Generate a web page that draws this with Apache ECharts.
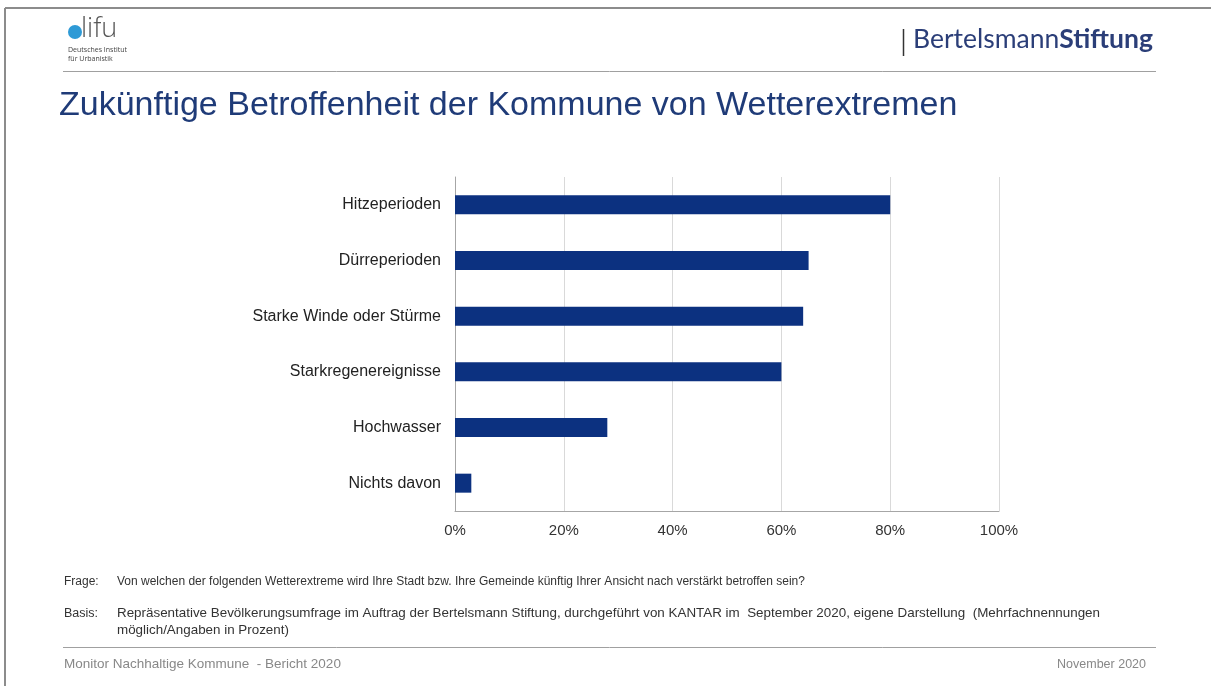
<!DOCTYPE html>
<html>
<head>
<meta charset="utf-8">
<script src="https://cdn.jsdelivr.net/npm/echarts@6/dist/echarts.min.js"></script>
<style>
html,body{margin:0;padding:0;background:#fff;}
#c{width:1211px;height:686px;}
</style>
</head>
<body>
<div id="c"></div>
<script>
const categories = ["Hitzeperioden", "Dürreperioden", "Starke Winde oder Stürme", "Starkregenereignisse", "Hochwasser", "Nichts davon"];
const values = [80, 65, 64, 60, 28, 3];
const xTicks = [0, 20, 40, 60, 80, 100];

const title = "Zukünftige Betroffenheit der Kommune von Wetterextremen";
const frageText = "Von welchen der folgenden Wetterextreme wird Ihre Stadt bzw. Ihre Gemeinde künftig Ihrer Ansicht nach verstärkt betroffen sein?";
const basisLine1 = "Repräsentative Bevölkerungsumfrage im Auftrag der Bertelsmann Stiftung, durchgeführt von KANTAR im  September 2020, eigene Darstellung  (Mehrfachnennungen";
const basisLine2 = "möglich/Angaben in Prozent)";
const footerLeft = "Monitor Nachhaltige Kommune  - Bericht 2020";
const footerRight = "November 2020";

const chart = echarts.init(document.getElementById('c'), null, {renderer: 'canvas'});
const F = '"Liberation Sans", Arial, sans-serif';
chart.setOption({
  animation: false,
  backgroundColor: '#fff',
  grid: {left: 455, right: 212, top: 177, height: 334, containLabel: false},
  xAxis: {
    type: 'value', min: xTicks[0], max: xTicks[xTicks.length - 1], interval: 20,
    axisLabel: {formatter: '{value}%', color: '#333', fontSize: 15, fontFamily: F, margin: 12},
    axisLine: {show: true, lineStyle: {color: '#a6a6a6', width: 1}},
    axisTick: {show: false},
    splitLine: {show: true, lineStyle: {color: '#d9d9d9', width: 1}}
  },
  yAxis: {
    type: 'category', data: categories, inverse: true,
    axisLabel: {color: '#222', fontSize: 16, fontFamily: F, margin: 14},
    axisLine: {show: true, lineStyle: {color: '#a6a6a6', width: 1}},
    axisTick: {show: false}
  },
  series: [{
    type: 'bar', data: values, barWidth: 19,
    itemStyle: {color: '#0C3180'}
  }],
  graphic: [
    // frame
    {type: 'line', shape: {x1: 5, y1: 8, x2: 1211, y2: 8}, style: {stroke: '#8c8c8c', lineWidth: 2}},
    {type: 'line', shape: {x1: 5, y1: 8, x2: 5, y2: 686}, style: {stroke: '#8c8c8c', lineWidth: 2}},
    // header line
    {type: 'line', shape: {x1: 63, y1: 71.5, x2: 1156, y2: 71.5}, style: {stroke: '#a0a0a0', lineWidth: 1}},
    // logo
    {type: 'circle', shape: {cx: 75, cy: 32, r: 7}, style: {fill: '#2E9AD6'}},
    {type: 'text', left: 81, top: 16, style: {text: 'lifu', font: '300 27px "Open Sans", sans-serif', fill: '#555'}},
    {type: 'text', left: 68, top: 46, style: {text: 'Deutsches Institut', font: '7px "Open Sans", sans-serif', fill: '#444'}},
    {type: 'text', left: 68, top: 55, style: {text: 'für Urbanistik', font: '7px "Open Sans", sans-serif', fill: '#444'}},
    // Bertelsmann
    {type: 'line', shape: {x1: 903.5, y1: 29, x2: 903.5, y2: 56}, style: {stroke: '#333', lineWidth: 1.5}},
    {type: 'text', left: 913, top: 26, style: {rich: {a: {font: '26.5px Lato, "Open Sans", sans-serif', fill: '#2B3E78'}, b: {font: 'bold 26.5px Lato, "Open Sans", sans-serif', fill: '#2B3E78'}}, text: '{a|Bertelsmann}{b|Stiftung}'}},
    // title
    {type: 'text', left: 59, top: 89, style: {text: title, font: '34px "Liberation Sans", Arial, sans-serif', fill: '#1F3B78'}},
    // footnotes
    {type: 'text', left: 64, top: 576, style: {text: 'Frage:', font: '12px "Liberation Sans", Arial, sans-serif', fill: '#333'}},
    {type: 'text', left: 117, top: 576, style: {text: frageText, font: '12px "Liberation Sans", Arial, sans-serif', fill: '#333'}},
    {type: 'text', left: 64, top: 607, style: {text: 'Basis:', font: '12.5px "Liberation Sans", Arial, sans-serif', fill: '#333'}},
    {type: 'text', left: 117, top: 607, style: {text: basisLine1, font: '13.4px "Liberation Sans", Arial, sans-serif', fill: '#333'}},
    {type: 'text', left: 117, top: 624, style: {text: basisLine2, font: '13.4px "Liberation Sans", Arial, sans-serif', fill: '#333'}},
    // footer
    {type: 'line', shape: {x1: 63, y1: 647.5, x2: 1156, y2: 647.5}, style: {stroke: '#a0a0a0', lineWidth: 1}},
    {type: 'text', left: 64, top: 657, style: {text: footerLeft, font: '13.5px "Liberation Sans", Arial, sans-serif', fill: '#888'}},
    {type: 'text', right: 1211 - 1146, top: 658, style: {text: footerRight, font: '12.5px "Liberation Sans", Arial, sans-serif', fill: '#888'}}
  ]
});
</script>
</body>
</html>
